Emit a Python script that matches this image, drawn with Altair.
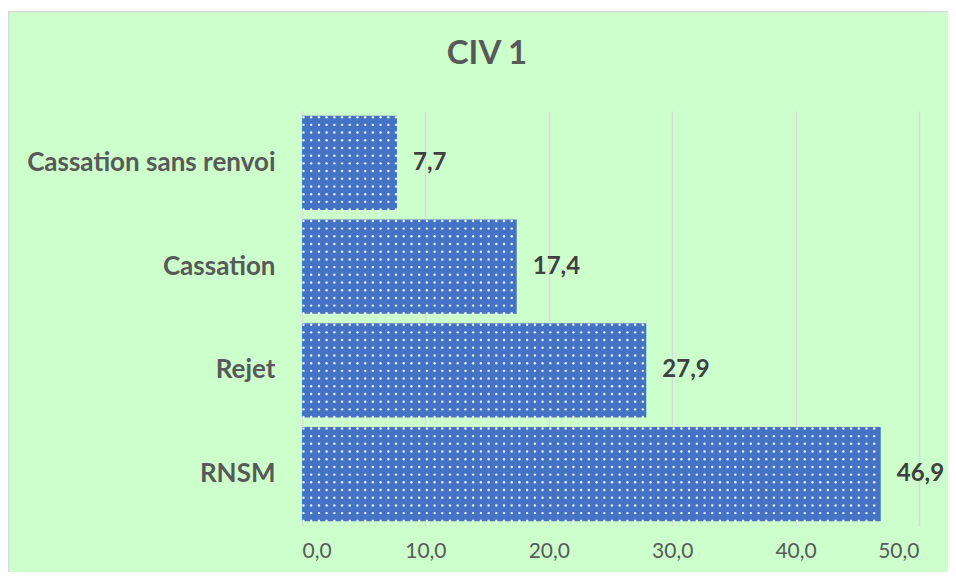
import altair as alt
import pandas as pd

categories = ["Cassation sans renvoi", "Cassation", "Rejet", "RNSM"]
values = [7.7, 17.4, 27.9, 46.9]
tick_values = [0, 10, 20, 30, 40, 50]
title_text = "CIV 1"

FONT = "Lato"
BAR = "#4472C4"
BG = "#CCFFCC"
GRID = "#D9D9D9"

df = pd.DataFrame({"cat": categories, "value": values})

y_scale = alt.Scale(paddingInner=0.09, paddingOuter=0.045)
x_scale = alt.Scale(domain=[0, 50])

y_enc = alt.Y(
    "cat:N", sort=categories, scale=y_scale, title=None,
    axis=alt.Axis(domain=False, ticks=False, labelPadding=27, labelFont=FONT,
                  labelFontSize=26, labelFontWeight="bold", labelColor="#595959",
                  grid=False, labelLimit=400),
)
x_enc = alt.X(
    "value:Q", scale=x_scale, title=None,
    axis=alt.Axis(values=tick_values, domain=False, ticks=False, grid=True,
                  gridColor=GRID, gridWidth=1.5, labelFont=FONT, labelFontSize=21,
                  labelColor="#595959", labelPadding=14,
                  labelExpr="replace(format(datum.value, '.1f'), '.', ',')"),
)

base = alt.Chart(df)

bars = base.mark_bar(color=BAR).encode(x=x_enc, y=y_enc)

dots = (
    base.transform_calculate(xs="sequence(0.12, datum.value, 0.625)")
    .transform_flatten(["xs"])
    .transform_calculate(ys="sequence(1.5, 94, 7.7)")
    .transform_flatten(["ys"])
    .mark_circle(color="white", size=6, opacity=0.9)
    .encode(
        x=alt.X("xs:Q"),
        y=alt.Y("cat:N", sort=categories),
        yOffset=alt.YOffset("ys:Q", scale=alt.Scale(domain=[0, 94.4], range=[0, 94.4])),
    )
)

labels = (
    base.transform_calculate(lbl="replace(format(datum.value, '.1f'), '.', ',')")
    .mark_text(align="left", baseline="middle", dx=16, font=FONT, fontSize=24,
               fontWeight="bold", color="#404040")
    .encode(x=alt.X("value:Q"), y=alt.Y("cat:N", sort=categories), text="lbl:N")
)

frame_data = alt.Data(values=[{"k": 1}])
strip = alt.Chart(frame_data).mark_rect(color="white").encode(
    x=alt.value(-300), x2=alt.value(700), y=alt.value(-103), y2=alt.value(-100)
)
border = alt.Chart(frame_data).mark_rect(fillOpacity=0, stroke=GRID, strokeWidth=1.5).encode(
    x=alt.value(-293.25), x2=alt.value(700), y=alt.value(-99.25), y2=alt.value(520)
)

chart = (
    alt.layer(strip, border, bars, dots, labels)
    .resolve_scale(yOffset="independent")
    .properties(
        width=617,
        height=415,
        autosize=alt.AutoSizeParams(type="none"),
        padding={"left": 294, "top": 103, "right": 29, "bottom": 46},
        title=alt.Title(title_text, font=FONT, fontSize=33, fontWeight="bold",
                        color="#595959", anchor="middle", frame="group",
                        dx=-123.5, baseline="alphabetic", offset=0, dy=89),
    )
    .configure(background=BG)
    .configure_view(stroke=None)
)

chart.save("out.html", embed_options={"renderer": "svg", "actions": False})
